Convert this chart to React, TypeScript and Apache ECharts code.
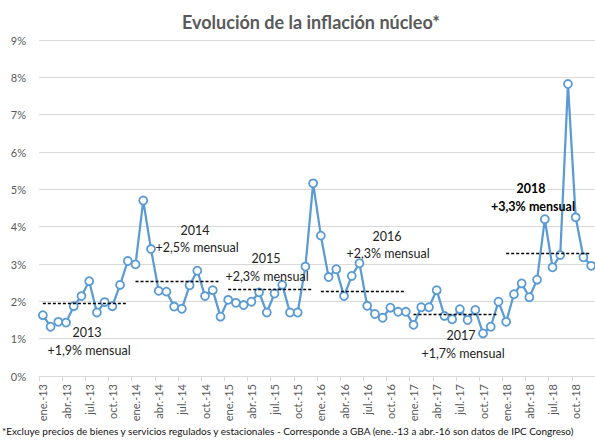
import React, { useEffect, useRef } from "react";
import * as echarts from "echarts";

const monthNames = ["ene.", "feb.", "mar.", "abr.", "may.", "jun.", "jul.", "ago.", "sep.", "oct.", "nov.", "dic."];
const years = ["13", "14", "15", "16", "17", "18"];
const categories: string[] = years.flatMap((y) => monthNames.map((m) => `${m}-${y}`));

const values2013 = [1.63, 1.32, 1.45, 1.43, 1.87, 2.14, 2.54, 1.7, 1.98, 1.87, 2.44, 3.08];
const values2014 = [2.99, 4.7, 3.4, 2.28, 2.26, 1.86, 1.8, 2.43, 2.82, 2.14, 2.3, 1.59];
const values2015 = [2.04, 1.96, 1.9, 1.99, 2.24, 1.7, 2.21, 2.44, 1.7, 1.7, 2.93, 5.16];
const values2016 = [3.76, 2.65, 2.86, 2.14, 2.68, 3.02, 1.88, 1.66, 1.56, 1.83, 1.72, 1.72];
const values2017 = [1.37, 1.84, 1.84, 2.3, 1.61, 1.52, 1.79, 1.5, 1.77, 1.14, 1.32, 1.99];
const values2018 = [1.45, 2.19, 2.48, 2.11, 2.58, 4.2, 2.91, 3.24, 7.82, 4.25, 3.18, 2.95];
const coreInflation = [...values2013, ...values2014, ...values2015, ...values2016, ...values2017, ...values2018];

// yearly average monthly core inflation (dashed reference lines)
const yearLabels = ["2013", "2014", "2015", "2016", "2017", "2018"];
const yearAverages = [1.95, 2.55, 2.32, 2.28, 1.66, 3.28];
const yearAvgTexts = ["+1,9% mensual", "+2,5% mensual", "+2,3% mensual", "+2,3% mensual", "+1,7% mensual", "+3,3% mensual"];

const yTicks = [0, 1, 2, 3, 4, 5, 6, 7, 8, 9];

const FONT = "Lato";

// annotation positions (px) [yearX, yearY, textX, textY]
const annPos: [number, number, number, number][] = [
  [87, 332, 89, 350],
  [195, 230, 197, 247],
  [266, 258, 267, 276],
  [387, 236, 388, 253],
  [461, 335, 463, 353],
  [531, 188, 533, 206],
];

export default function App() {
  const ref = useRef<HTMLDivElement>(null);
  useEffect(() => {
    if (!ref.current) return;
    const chart = echarts.init(ref.current, undefined, { renderer: "svg" });
    const markLines = yearAverages.map((v, i) => [
      { coord: [categories[i * 12], v] },
      { coord: [categories[i * 12 + 11], v] },
    ]);
    const graphics: any[] = [];
    annPos.forEach((p, i) => {
      const bold = i === 5;
      graphics.push({
        type: "text",
        x: p[0],
        y: p[1],
        z: 100,
        style: {
          text: yearLabels[i],
          fill: bold ? "#000" : "#222",
          font: `${bold ? "bold " : ""}12.5px ${FONT}`,
          textAlign: "center",
          textVerticalAlign: "middle",
          backgroundColor: bold ? "#fff" : undefined,
          padding: bold ? [1, 2] : undefined,
        },
      });
      graphics.push({
        type: "text",
        x: p[2],
        y: p[3],
        z: 100,
        style: {
          text: yearAvgTexts[i],
          fill: bold ? "#000" : "#222",
          font: `${bold ? "bold " : ""}12.5px ${FONT}`,
          textAlign: "center",
          textVerticalAlign: "middle",
        },
      });
    });
    graphics.push({
      type: "text",
      left: 2,
      top: 432 - 6,
      style: {
        text: "*Excluye precios de bienes y servicios regulados y estacionales - Corresponde a GBA (ene.-13 a abr.-16 son datos de IPC Congreso)",
        fill: "#111",
        font: `10px ${FONT}`,
      },
    });
    chart.setOption({
      animation: false,
      backgroundColor: "#fff",
      title: {
        text: "Evolución de la inflación núcleo*",
        left: 306,
        textAlign: "center",
        top: 8,
        textStyle: { fontFamily: FONT, fontWeight: "bold", fontSize: 18, color: "#595959" },
      },
      grid: { left: 39, right: -4, top: 40, bottom: 64 },
      xAxis: {
        type: "category",
        data: categories,
        boundaryGap: true,
        axisLine: { lineStyle: { color: "#d9d9d9" } },
        axisTick: { show: true, interval: 2, length: 5, lineStyle: { color: "#d9d9d9" } },
        axisLabel: {
          interval: 2,
          rotate: 90,
          color: "#595959",
          fontFamily: FONT,
          fontSize: 11,
          margin: 8,
        },
      },
      yAxis: {
        type: "value",
        min: 0,
        max: 9,
        interval: 1,
        axisLine: { show: false },
        axisTick: { show: false },
        splitLine: { lineStyle: { color: "#d9d9d9" } },
        axisLabel: {
          formatter: (v: number) => (yTicks.includes(v) ? `${v}%` : ""),
          color: "#595959",
          fontFamily: FONT,
          fontSize: 11,
          margin: 13,
        },
      },
      series: [
        {
          type: "line",
          data: coreInflation,
          symbol: "circle",
          symbolSize: 8,
          showAllSymbol: true,
          lineStyle: { color: "#5b9bd5", width: 2.25 },
          itemStyle: { color: "#fff", borderColor: "#5b9bd5", borderWidth: 1.8 },
          markLine: {
            silent: true,
            symbol: "none",
            label: { show: false },
            lineStyle: { color: "#000", type: [3, 2], width: 1.3 },
            data: markLines,
          },
        },
      ],
      graphic: graphics,
    });
    return () => chart.dispose();
  }, []);
  return <div ref={ref} style={{ width: 595, height: 440, position: "absolute", left: 0, top: 0 }} />;
}
